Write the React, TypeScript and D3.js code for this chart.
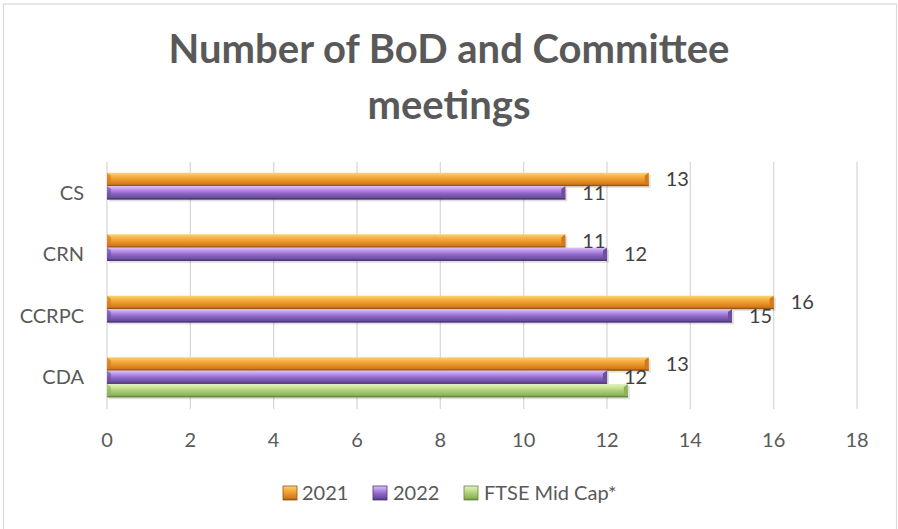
import React from "react";
import * as d3 from "d3";

const categories = ["CS", "CRN", "CCRPC", "CDA"];
const seriesNames = ["2021", "2022", "FTSE Mid Cap*"];
const values2021 = [13, 11, 16, 13];
const values2022 = [11, 12, 15, 12];
const valuesFTSE = [null, null, null, 12.5];
const xTicks = [0, 2, 4, 6, 8, 10, 12, 14, 16, 18];
const title = ["Number of BoD and Committee", "meetings"];

const W = 898;
const H = 529;
const FONT = "Lato, 'Open Sans', sans-serif";

const palette = [
  { id: "gOr", stops: ["#fcd27a", "#f6ae40", "#ec962c", "#d07a1c", "#9a5410"] },
  { id: "gPu", stops: ["#dcc2fb", "#b38ce6", "#8d66c4", "#6d4ea0", "#4a3572"] },
  { id: "gGr", stops: ["#e2f2c4", "#c4e292", "#a8cc74", "#8cb35a", "#66873e"] },
];

export default function App() {
  const allSeries = [values2021, values2022, valuesFTSE];
  const x = d3.scaleLinear().domain([0, 18]).range([107, 857]);
  const y = d3.scaleBand<string>().domain(categories).range([162, 408]).padding(0);
  const y1 = d3
    .scaleBand<string>()
    .domain(seriesNames)
    .range([0, y.bandwidth()])
    .paddingInner(0)
    .paddingOuter(0.806);

  return (
    <svg
      width={W}
      height={H}
      style={{ position: "absolute", left: 0, top: 0, background: "#fff" }}
      fontFamily={FONT}
    >
      <defs>
        {palette.map((p) => (
          <linearGradient key={p.id} id={p.id} x1="0" y1="0" x2="0" y2="1">
            <stop offset="0%" stopColor={p.stops[0]} />
            <stop offset="30%" stopColor={p.stops[1]} />
            <stop offset="55%" stopColor={p.stops[2]} />
            <stop offset="85%" stopColor={p.stops[3]} />
            <stop offset="100%" stopColor={p.stops[4]} />
          </linearGradient>
        ))}
      </defs>
      <rect x={0} y={0} width={W} height={H} fill="#fff" />
      <rect x={3.5} y={4} width={893} height={600} fill="none" stroke="#d9d9d9" strokeWidth={1.2} />

      {title.map((t, i) => (
        <text
          key={t}
          x={449}
          y={63 + i * 56}
          textAnchor="middle"
          fontSize={40}
          fontWeight={700}
          fill="#595959"
        >
          {t}
        </text>
      ))}

      {/* gridlines */}
      {xTicks.map((t) => (
        <line
          key={t}
          x1={x(t)}
          x2={x(t)}
          y1={162}
          y2={409}
          stroke="#d9d9d9"
          strokeWidth={1.3}
        />
      ))}

      {/* tick labels */}
      {xTicks.map((t) => (
        <text key={t} x={x(t)} y={447} textAnchor="middle" fontSize={20} fill="#595959">
          {t}
        </text>
      ))}

      {/* category labels */}
      {categories.map((c) => (
        <text
          key={c}
          x={84}
          y={(y(c) as number) + y.bandwidth() / 2 + 7}
          textAnchor="end"
          fontSize={20}
          fill="#595959"
        >
          {c}
        </text>
      ))}

      {/* bars */}
      {categories.map((c, ci) =>
        seriesNames.map((s, si) => {
          const v = allSeries[si][ci];
          if (v == null) return null;
          const y0 = (y(c) as number) + (y1(s) as number);
          const h = y1.bandwidth();
          const x0 = x(0);
          const x1 = x(v);
          const p = palette[si];
          return (
            <g key={c + s}>
              <rect x={x0 + 2} y={y0 + 2} width={x1 - x0} height={h} fill="#000" opacity={0.12} />
              <rect x={x0} y={y0} width={x1 - x0} height={h} fill={`url(#${p.id})`} />
              <polygon
                points={`${x1 - 4},${y0 + 3} ${x1},${y0} ${x1},${y0 + h} ${x1 - 4},${y0 + h - 3}`}
                fill={p.stops[3]}
              />
              <polygon
                points={`${x0},${y0} ${x0 + 4},${y0 + 3} ${x0 + 4},${y0 + h - 3} ${x0},${y0 + h}`}
                fill={p.stops[3]}
                opacity={0.6}
              />
              <line x1={x0} x2={x1} y1={y0 + h - 0.5} y2={y0 + h - 0.5} stroke={p.stops[4]} strokeWidth={1} />
            </g>
          );
        })
      )}

      {/* data labels (2021 & 2022 only) */}
      {categories.map((c, ci) =>
        seriesNames.slice(0, 2).map((s, si) => {
          const v = allSeries[si][ci];
          if (v == null) return null;
          const yc = (y(c) as number) + (y1(s) as number) + y1.bandwidth() / 2;
          return (
            <text key={c + s} x={x(v) + 17} y={yc + 7} fontSize={20} fill="#404040">
              {v}
            </text>
          );
        })
      )}

      {/* legend */}
      {(() => {
        const items = [
          { name: seriesNames[0], sx: 283, tx: 302 },
          { name: seriesNames[1], sx: 373, tx: 393 },
          { name: seriesNames[2], sx: 464, tx: 484 },
        ];
        return items.map((it, i) => (
          <g key={it.name}>
            <rect x={it.sx} y={486} width={14} height={14} fill={`url(#${palette[i].id})`} />
            <rect x={it.sx} y={486} width={14} height={14} fill="none" stroke={palette[i].stops[4]} strokeWidth={0.8} />
            <text x={it.tx} y={500} fontSize={20} fill="#595959">
              {it.name}
            </text>
          </g>
        ));
      })()}
    </svg>
  );
}
